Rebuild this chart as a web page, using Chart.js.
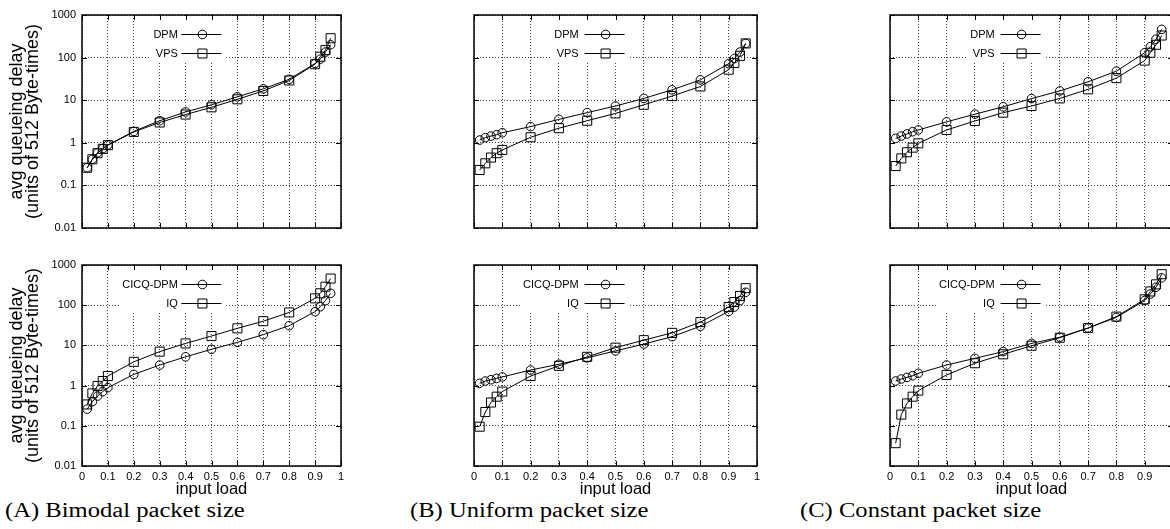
<!DOCTYPE html>
<html>
<head>
<meta charset="utf-8">
<script src="https://cdn.jsdelivr.net/npm/chart.js@4.4.0/dist/chart.umd.min.js"></script>
<style>
  body { margin: 0; background: #fff; width: 1170px; height: 529px; overflow: hidden; position: relative; }
  canvas { position: absolute; }
  .cap { position: absolute; top: 500px; font-family: "Liberation Serif", "Times New Roman", serif; font-size: 20px; line-height: 20px; white-space: nowrap; transform: scaleX(1.23); transform-origin: 0 50%; color: #000; }
</style>
</head>
<body>
<div class="cap" style="left:5px">(A) Bimodal packet size</div>
<div class="cap" style="left:410px">(B) Uniform packet size</div>
<div class="cap" style="left:800px">(C) Constant packet size</div>
<script>
// input load values (x) shared by every curve
const loads = [0.02, 0.04, 0.06, 0.08, 0.1, 0.2, 0.3, 0.4, 0.5, 0.6, 0.7, 0.8, 0.9, 0.92, 0.94, 0.96];
const xTicks = [0, 0.1, 0.2, 0.3, 0.4, 0.5, 0.6, 0.7, 0.8, 0.9, 1];
const xTickLabels = ["0", "0.1", "0.2", "0.3", "0.4", "0.5", "0.6", "0.7", "0.8", "0.9", "1"];
const yTicks = [0.01, 0.1, 1, 10, 100, 1000];
const yTickLabels = ["0.01", "0.1", "1", "10", "100", "1000"];

// (A) bimodal
const bimodalDpm  = [0.26, 0.41, 0.58, 0.73, 0.89, 1.85, 3.3, 5.3, 7.8, 12, 18.5, 31, 73, 92, 135, 200];
const bimodalVps  = [0.26, 0.41, 0.57, 0.72, 0.88, 1.8, 3.0, 4.6, 6.8, 10.5, 16.5, 29, 70, 105, 150, 285];
const bimodalCicq = [0.26, 0.40, 0.55, 0.71, 0.89, 1.9, 3.25, 5.2, 8.0, 11.9, 18.5, 31, 69, 92, 130, 198];
const bimodalIq   = [0.34, 0.64, 0.98, 1.3, 1.73, 3.9, 7.0, 11.2, 17.1, 26.6, 40, 66, 148, 198, 288, 460];
// (B) uniform
const uniformDpm  = [1.16, 1.32, 1.44, 1.55, 1.72, 2.4, 3.55, 5.1, 7.3, 11, 17.5, 30, 72, 95, 135, 215];
const uniformVps  = [0.23, 0.33, 0.45, 0.57, 0.68, 1.35, 2.2, 3.3, 4.9, 7.8, 12.5, 21, 52, 75, 110, 215];
const uniformCicq = [1.14, 1.3, 1.4, 1.51, 1.64, 2.44, 3.4, 4.9, 7.3, 10.8, 16.5, 30, 70, 90, 130, 210];
const uniformIq   = [0.095, 0.22, 0.38, 0.53, 0.71, 1.73, 3.1, 5.2, 8.8, 13.5, 20.5, 38, 90, 120, 170, 265];
// (C) constant
const constantDpm  = [1.27, 1.44, 1.61, 1.82, 2.0, 3.1, 4.7, 7.0, 10.9, 16.5, 27, 48, 130, 180, 270, 460];
const constantVps  = [0.285, 0.43, 0.6, 0.77, 0.97, 2.0, 3.25, 5.1, 7.3, 11, 18, 33, 85, 130, 200, 330];
const constantCicq = [1.3, 1.46, 1.6, 1.76, 2.02, 3.25, 4.77, 7.0, 11.2, 16, 27, 50, 130, 190, 280, 480];
const constantIq   = [0.037, 0.19, 0.36, 0.53, 0.75, 1.84, 3.6, 6.0, 9.8, 15.5, 27, 52, 140, 220, 330, 590];

const yTitle = ["avg queueing delay", "(units of 512 Byte-times)"];
const xTitle = "input load";

Chart.defaults.font.family = '"Liberation Sans", Arial, sans-serif';
Chart.defaults.color = "#000";

// where each column / row of panels sits on the page
const cols = [
  { left: 0, width: 345, padL: 0, padR: 4, yw: 82, yLabels: true },
  { left: 470, width: 291, padL: 4, padR: 4, yw: 0, yLabels: false },
  { left: 886, width: 291, padL: 4, padR: 4, yw: 0, yLabels: false }
];
const rows = [
  { top: 0, height: 232, padT: 15, padB: 4, xh: 0, xLabels: false },
  { top: 250, height: 250, padT: 15, padB: 0, xh: 34, xLabels: true }
];

const keyFont = '11px "Liberation Sans", Arial, sans-serif';

function keyGeom(chart) {
  const a = chart.chartArea;
  const w = a.right - a.left;
  const ctx = chart.ctx;
  ctx.save();
  ctx.font = keyFont;
  const tw = Math.max(...chart.data.datasets.map(d => ctx.measureText(d.label).width));
  ctx.restore();
  const textR = a.left + 0.37 * w;
  const mx = a.left + 0.465 * w;
  return { textR, mx, boxL: textR - tw - 3, boxR: mx + 24 };
}

// gnuplot look: opaque key, framed box, inward ticks on all sides
const gnuplotLook = {
  id: "gnuplotLook",
  beforeDatasetsDraw(chart) {
    const { ctx, chartArea: a } = chart;
    const k = keyGeom(chart);
    ctx.save();
    ctx.fillStyle = "#fff";
    ctx.fillRect(k.boxL, a.top + 1, k.boxR - k.boxL, 47);
    ctx.restore();
  },
  afterDraw(chart) {
    const { ctx, chartArea: a } = chart;
    const sx = chart.scales.x, sy = chart.scales.y;
    ctx.save();
    ctx.strokeStyle = "#000";
    ctx.lineWidth = 1;
    ctx.beginPath();
    sx.ticks.forEach(t => {
      const px = Math.round(sx.getPixelForValue(t.value)) + 0.5;
      ctx.moveTo(px, a.bottom); ctx.lineTo(px, a.bottom - 5);
      ctx.moveTo(px, a.top); ctx.lineTo(px, a.top + 5);
    });
    sy.ticks.forEach(t => {
      const py = Math.round(sy.getPixelForValue(t.value)) + 0.5;
      ctx.moveTo(a.left, py); ctx.lineTo(a.left + 5, py);
      ctx.moveTo(a.right, py); ctx.lineTo(a.right - 5, py);
    });
    ctx.stroke();
    ctx.lineWidth = 1.5;
    ctx.strokeRect(a.left, a.top, a.right - a.left, a.bottom - a.top);

    const k = keyGeom(chart);
    ctx.font = keyFont;
    ctx.textAlign = "right";
    ctx.textBaseline = "middle";
    ctx.fillStyle = "#000";
    chart.data.datasets.forEach((ds, i) => {
      const yy = a.top + 19.5 + i * 19;
      ctx.fillText(ds.label, k.textR, yy);
      ctx.lineWidth = 1;
      ctx.beginPath();
      ctx.moveTo(k.mx - 21, yy); ctx.lineTo(k.mx + 19, yy);
      ctx.stroke();
      ctx.beginPath();
      if (ds.pointStyle === "rect") ctx.rect(k.mx - 4.5, yy - 4.5, 9, 9);
      else ctx.arc(k.mx, yy, 4.3, 0, Math.PI * 2);
      ctx.stroke();
    });
    ctx.restore();
  }
};

function series(label, vals, style) {
  return {
    label: label,
    data: loads.map((x, i) => ({ x: x, y: vals[i] })),
    borderColor: "#000",
    borderWidth: 1,
    tension: 0,
    fill: false,
    pointStyle: style,
    pointRadius: style === "rect" ? 6.4 : 4.3,
    pointHoverRadius: style === "rect" ? 6.4 : 4.3,
    pointBorderWidth: 1,
    pointBorderColor: "#000",
    pointBackgroundColor: "rgba(0,0,0,0)"
  };
}

function panel(col, row, names, a, b) {
  const c = cols[col], r = rows[row];
  const cv = document.createElement("canvas");
  cv.width = c.width; cv.height = r.height;
  cv.style.left = c.left + "px"; cv.style.top = r.top + "px";
  cv.style.width = c.width + "px"; cv.style.height = r.height + "px";
  document.body.appendChild(cv);

  new Chart(cv, {
    type: "line",
    data: { datasets: [series(names[0], a, "circle"), series(names[1], b, "rect")] },
    options: {
      responsive: false,
      animation: false,
      devicePixelRatio: 1,
      layout: { autoPadding: false, padding: { left: c.padL, right: c.padR, top: r.padT, bottom: r.padB } },
      plugins: { legend: { display: false }, tooltip: { enabled: false } },
      scales: {
        x: {
          type: "linear",
          min: 0, max: 1,
          afterBuildTicks: s => { s.ticks = xTicks.map(v => ({ value: v })); },
          afterFit: s => { s.height = r.xh; s.paddingLeft = 0; s.paddingRight = 0; },
          ticks: {
            display: r.xLabels,
            autoSkip: false, maxRotation: 0, padding: 4,
            font: { size: 11 },
            callback: (v, i) => xTickLabels[i]
          },
          grid: { color: "rgba(0,0,0,0.75)", lineWidth: 1, drawTicks: false },
          border: { display: false, dash: [1, 2] },
          title: { display: r.xLabels, text: xTitle, font: { size: 16.5, lineHeight: 1 }, padding: { top: 0, bottom: 2.5 } }
        },
        y: {
          type: "logarithmic",
          min: 0.01, max: 1000,
          afterBuildTicks: s => { s.ticks = yTicks.map(v => ({ value: v })); },
          afterFit: s => { s.width = c.yw; s.paddingTop = 0; s.paddingBottom = 0; },
          ticks: {
            display: c.yLabels,
            autoSkip: false, padding: 6,
            font: { size: 11 },
            callback: (v, i) => yTickLabels[i]
          },
          grid: { color: "rgba(0,0,0,0.75)", lineWidth: 1, drawTicks: false },
          border: { display: false, dash: [1, 2] },
          title: { display: c.yLabels, text: yTitle, font: { size: 18, lineHeight: 0.89 }, padding: { top: 9, bottom: 0 } }
        }
      }
    },
    plugins: [gnuplotLook]
  });
}

panel(0, 0, ["DPM", "VPS"], bimodalDpm, bimodalVps);
panel(1, 0, ["DPM", "VPS"], uniformDpm, uniformVps);
panel(2, 0, ["DPM", "VPS"], constantDpm, constantVps);
panel(0, 1, ["CICQ-DPM", "IQ"], bimodalCicq, bimodalIq);
panel(1, 1, ["CICQ-DPM", "IQ"], uniformCicq, uniformIq);
panel(2, 1, ["CICQ-DPM", "IQ"], constantCicq, constantIq);
</script>
</body>
</html>
